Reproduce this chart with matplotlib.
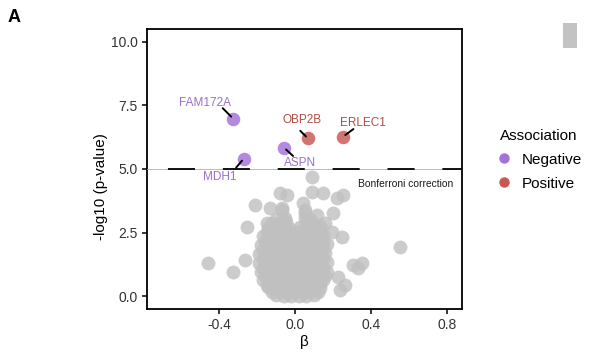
import matplotlib
matplotlib.use("Agg")
import matplotlib.pyplot as plt
from matplotlib.lines import Line2D
from matplotlib.patches import Rectangle

plt.rcParams['font.family'] = ['Liberation Sans', 'DejaVu Sans']

# ---------------- data ----------------
genes = ['FAM172A', 'MDH1', 'ASPN', 'OBP2B', 'ERLEC1']
gene_beta = [-0.326, -0.27, -0.058, 0.068, 0.253]
gene_logp = [6.98, 5.41, 5.84, 6.20, 6.27]
gene_assoc = ['Negative', 'Negative', 'Negative', 'Positive', 'Positive']

# non-significant proteins (read from the cloud)
bg_beta = [
    # scattered points
    0.089, -0.079, -0.042, 0.089, 0.147, 0.221, 0.253, -0.21, -0.132, -0.068,
    0.042, 0.20, -0.147, -0.253, 0.158, 0.195, 0.247, 0.553, -0.458, -0.326,
    -0.263, 0.305, 0.353, 0.332, 0.226, 0.263, 0.237, 0.132, 0.053, 0.116,
    -0.053, 0.026,
    # dense core
    -0.10, -0.06, -0.02, 0.02, 0.06, 0.10,
    -0.12, -0.08, -0.04, 0.00, 0.04, 0.08, 0.12,
    -0.14, -0.10, -0.06, -0.02, 0.02, 0.06, 0.10, 0.13,
    -0.15, -0.11, -0.07, -0.03, 0.01, 0.05, 0.09, 0.13,
    -0.17, -0.13, -0.09, -0.05, -0.01, 0.03, 0.07, 0.11, 0.15,
    -0.16, -0.12, -0.08, -0.04, 0.00, 0.04, 0.08, 0.12, 0.16,
    -0.18, -0.14, -0.10, -0.06, -0.02, 0.02, 0.06, 0.10, 0.14, 0.17,
    -0.17, -0.13, -0.09, -0.05, -0.01, 0.03, 0.07, 0.11, 0.15,
    -0.19, -0.15, -0.11, -0.07, -0.03, 0.01, 0.05, 0.09, 0.13, 0.17,
    -0.17, -0.13, -0.09, -0.05, -0.01, 0.03, 0.07, 0.11, 0.15,
    -0.19, -0.15, -0.11, -0.07, -0.03, 0.01, 0.05, 0.09, 0.13, 0.16,
    -0.17, -0.13, -0.09, -0.05, -0.01, 0.03, 0.07, 0.11, 0.15,
    -0.18, -0.14, -0.10, -0.06, -0.02, 0.02, 0.06, 0.10, 0.14, 0.17,
    -0.16, -0.12, -0.08, -0.04, 0.00, 0.04, 0.08, 0.12, 0.15,
    -0.17, -0.13, -0.09, -0.05, -0.01, 0.03, 0.07, 0.11, 0.15,
    -0.15, -0.11, -0.07, -0.03, 0.01, 0.09, 0.13,
    -0.14, -0.10, -0.06, -0.03, 0.07, 0.10, 0.13,
    -0.12, -0.08, -0.05, 0.06, 0.09,
    -0.10, -0.06, 0.05, 0.08,
    -0.07, 0.05,
]
bg_logp = [
    4.67, 4.04, 3.96, 4.08, 4.04, 3.88, 3.96, 3.57, 3.45, 3.45,
    3.65, 3.29, 2.86, 2.71, 2.86, 2.51, 2.31, 1.92, 1.29, 0.94,
    1.41, 1.22, 1.29, 1.10, 0.75, 0.43, 0.24, 1.02, 3.29, 3.18,
    3.06, 2.71,
    0.05, 0.02, 0.00, 0.03, 0.01, 0.06,
    0.18, 0.15, 0.12, 0.17, 0.14, 0.19, 0.16,
    0.35, 0.28, 0.30, 0.25, 0.32, 0.27, 0.30, 0.33,
    0.46, 0.44, 0.48, 0.43, 0.47, 0.45, 0.42, 0.47,
    0.62, 0.58, 0.65, 0.60, 0.55, 0.63, 0.58, 0.60, 0.64,
    0.80, 0.78, 0.82, 0.77, 0.81, 0.79, 0.83, 0.78, 0.80,
    0.95, 1.00, 0.92, 0.97, 0.93, 1.00, 0.96, 0.92, 0.98, 0.94,
    1.12, 1.15, 1.10, 1.14, 1.11, 1.16, 1.12, 1.13, 1.10,
    1.30, 1.27, 1.33, 1.28, 1.35, 1.30, 1.26, 1.32, 1.29, 1.34,
    1.48, 1.46, 1.50, 1.47, 1.49, 1.45, 1.51, 1.48, 1.46,
    1.65, 1.70, 1.62, 1.68, 1.64, 1.70, 1.63, 1.67, 1.61, 1.69,
    1.82, 1.84, 1.80, 1.83, 1.81, 1.85, 1.82, 1.80, 1.84,
    2.00, 1.97, 2.04, 2.00, 1.96, 2.03, 1.98, 2.02, 1.99, 2.05,
    2.18, 2.16, 2.20, 2.17, 2.19, 2.15, 2.21, 2.18, 2.16,
    2.35, 2.40, 2.33, 2.37, 2.32, 2.38, 2.34, 2.36, 2.40,
    2.52, 2.55, 2.50, 2.53, 2.51, 2.54, 2.52,
    2.70, 2.68, 2.74, 2.70, 2.72, 2.69, 2.75,
    2.88, 2.86, 2.90, 2.87, 2.89,
    3.05, 3.00, 3.08, 3.02,
    3.38, 3.40,
]

threshold = 5.0
x_ticks = [-0.4, 0.0, 0.4, 0.8]
y_ticks = [0.0, 2.5, 5.0, 7.5, 10.0]

# ---------------- style ----------------
colors = {'Negative': '#9b62d6', 'Positive': '#c4453f'}
text_colors = {'Negative': '#9a6fcb', 'Positive': '#b24b45'}
# label offsets (points): text centre, line start
label_text_off = {'FAM172A': (-20, 11.5), 'MDH1': (-17, -13.5), 'ASPN': (11.5, -11),
                  'OBP2B': (-4.5, 13), 'ERLEC1': (14.5, 10)}
label_line_off = {'FAM172A': (-7.5, 7.5), 'MDH1': (-5.5, -6.5), 'ASPN': (6.5, -6),
                  'OBP2B': (-5.5, 5.5), 'ERLEC1': (7.5, 5.5)}

fig = plt.figure(figsize=(5.89, 3.52), dpi=100)
ax = fig.add_axes([147/589, 1-309/352, (462-147)/589, (309-29)/352])

ax.scatter(bg_beta, bg_logp, s=100, color='#c0c0c0', alpha=0.8, linewidths=0, zorder=2)

ax.axhline(threshold, color='#b0b0b0', lw=0.6, zorder=3)
ax.axhline(threshold, color='black', lw=1.3, ls=(18.8, (15, 15.4)), zorder=3)

for g, b, p, a in zip(genes, gene_beta, gene_logp, gene_assoc):
    ax.scatter([b], [p], s=95, color=colors[a], alpha=0.75, linewidths=0, zorder=4)
    lo = label_line_off[g]
    ax.annotate('', xy=(b, p), xytext=lo, textcoords='offset points',
                arrowprops=dict(arrowstyle='-', lw=1.4, color='black', shrinkA=0, shrinkB=2),
                zorder=5)
    to = label_text_off[g]
    ax.annotate(g, xy=(b, p), xytext=to, textcoords='offset points', ha='center', va='center',
                fontsize=8.5, color=text_colors[a], zorder=5)

ax.text(0.332, 4.43, 'Bonferroni correction', fontsize=7.4, color='#1a1a1a', va='center', ha='left')

ax.set_xlim(-0.78, 0.88)
ax.set_ylim(-0.5, 10.5)
ax.set_xticks(x_ticks)
ax.set_xticklabels(['-0.4', '0.0', '0.4', '0.8'])
ax.set_yticks(y_ticks)
ax.set_yticklabels(['0.0', '2.5', '5.0', '7.5', '10.0'])
ax.tick_params(length=3.5, width=1.1, labelsize=10, labelcolor='#333333', pad=3)
for sp in ax.spines.values():
    sp.set_linewidth(1.3)
    sp.set_color('black')
ax.set_xlabel('β', fontsize=11, labelpad=2)
ax.set_ylabel('-log10 (p-value)', fontsize=11)
ax.yaxis.set_label_coords(-0.125, 1-(187-29)/280)

handles = [Line2D([], [], marker='o', ls='', markersize=7.5, markerfacecolor=colors[k],
                  markeredgewidth=0, alpha=0.9, label=k) for k in ['Negative', 'Positive']]
leg = fig.legend(handles=handles, title='Association', loc='upper left',
                 bbox_to_anchor=(486/589, 1-115/352), frameon=False, fontsize=11,
                 title_fontsize=11, handletextpad=0.85, labelspacing=0.65, handlelength=0.6)
leg._legend_box.align = 'left'

fig.text(8/589, 1-22/352, 'A', fontsize=13, fontweight='bold', ha='left', va='baseline')

fig.patches.append(Rectangle((563/589, 1-48/352), 14/589, 25/352, transform=fig.transFigure,
                             facecolor='#b4b4b4', edgecolor='none', alpha=0.8))

fig.savefig('out.png', dpi=100)
